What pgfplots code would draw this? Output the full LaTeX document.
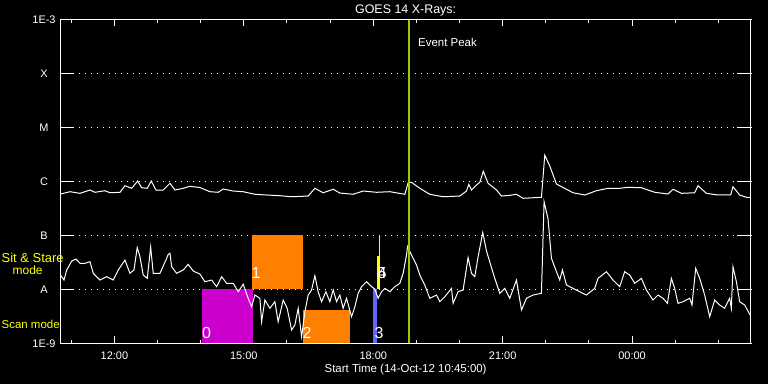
\documentclass[border=0pt]{standalone}
\usepackage{fontspec}
\setmainfont{Liberation Sans}
\usepackage{pgfplots}
\pgfplotsset{compat=1.18}
\definecolor{boxmag}{RGB}{204,0,204}
\definecolor{boxorange}{RGB}{255,128,0}
\definecolor{boxblue}{RGB}{100,100,255}
\definecolor{boxyellow}{RGB}{255,255,0}
\definecolor{peakgreen}{RGB}{153,204,0}
\begin{document}
\begin{tikzpicture}
\fill[black] (0,0) rectangle (768bp,384bp);
\useasboundingbox (0,0) rectangle (768bp,384bp);
% long y ticks on both sides
\begin{axis}[
  at={(60.5bp,41bp)}, anchor=south west,
  scale only axis, width=690.2bp, height=323.5bp,
  xmin=10.75, xmax=26.75,
  ymode=log, ymin=1e-9, ymax=1e-3,
  axis line style={draw=none},
  xtick=\empty,
  ytick={1e-8,1e-7,1e-6,1e-5,1e-4},
  yticklabels={},
  yminorticks=false,
  tick pos=both, tick align=inside,
  major tick length=14bp,
  every tick/.style={white, line width=1bp},
]
\end{axis}
\begin{axis}[
  at={(60.5bp,41bp)}, anchor=south west,
  scale only axis, width=690.2bp, height=323.5bp,
  xmin=10.75, xmax=26.75,
  ymode=log, ymin=1e-9, ymax=1e-3,
  axis line style={white, line width=1bp},
  tick pos=both, tick align=inside,
  xtick={12,15,18,21,24},
  xticklabels={12:00,15:00,18:00,21:00,00:00},
  minor xtick={11,13,14,16,17,19,20,22,23,25,26},
  major tick length=6.7bp, minor tick length=3.3bp,
  every tick/.style={white, line width=1bp},
  ytick={1e-9,1e-8,1e-7,1e-6,1e-5,1e-4,1e-3},
  yticklabels={1E-9,A,B,C,M,X,1E-3},
  yminorticks=false,
  ytick style={draw=none},
  ymajorgrids,
  grid style={white, line width=1bp, dash pattern=on 1bp off 5bp},
  every tick label/.append style={white, font=\fontsize{11}{13}\selectfont, inner sep=0pt},
  xticklabel style={anchor=base, yshift=-16.3bp},
  yticklabel style={anchor=base, xshift=-16.5bp, yshift=-4.3bp},
  clip=true,
]
% observation boxes
\addplot[fill=boxmag, draw=none] coordinates {(14.029,1e-9) (15.203,1e-9) (15.203,1e-8) (14.029,1e-8)};
\addplot[fill=boxorange, draw=none] coordinates {(15.187,1e-8) (16.362,1e-8) (16.362,1e-7) (15.187,1e-7)};
\addplot[fill=boxorange, draw=none] coordinates {(16.369,1e-9) (17.451,1e-9) (17.451,4.09e-9) (16.369,4.09e-9)};
\addplot[fill=boxblue, draw=none] coordinates {(17.998,1e-9) (18.076,1e-9) (18.076,1e-8) (17.998,1e-8)};
\addplot[fill=boxyellow, draw=none] coordinates {(18.083,1e-8) (18.146,1e-8) (18.146,4.11e-8) (18.083,4.11e-8)};
\addplot[boxyellow, line width=1bp] coordinates {(18.137,1e-8) (18.137,1e-7)};
% long channel 1-8 A
\addplot[white, line width=1bp] coordinates {
(10.750,5.80e-7) (10.970,6.40e-7) (11.202,5.97e-7) (11.434,6.88e-7) (11.549,6.24e-7) (11.781,6.68e-7) (11.897,6.12e-7) (12.129,6.24e-7) (12.244,8.26e-7) (12.400,7.40e-7) (12.539,1.01e-6) (12.631,7.59e-7) (12.761,7.40e-7) (12.854,1.01e-6) (12.963,6.88e-7) (13.132,6.88e-7) (13.287,9.16e-7) (13.403,6.88e-7) (13.595,7.40e-7) (13.750,8.05e-7) (13.982,7.65e-7) (14.214,6.40e-7) (14.406,6.24e-7) (14.522,7.18e-7) (14.754,6.59e-7) (14.985,6.40e-7) (15.257,5.73e-7) (15.528,5.56e-7) (15.836,5.40e-7) (16.107,5.16e-7) (16.492,5.32e-7) (16.647,7.40e-7) (16.839,6.12e-7) (17.071,7.10e-7) (17.226,6.05e-7) (17.534,5.73e-7) (17.766,6.59e-7) (18.076,6.24e-7) (18.385,6.40e-7) (18.732,5.73e-7) (18.809,9.40e-7) (18.887,9.55e-7) (19.080,7.40e-7) (19.311,5.73e-7) (19.619,5.16e-7) (20.006,5.32e-7) (20.162,6.59e-7) (20.215,8.77e-7) (20.278,6.88e-7) (20.393,8.51e-7) (20.470,9.55e-7) (20.551,1.53e-6) (20.662,9.16e-7) (20.857,6.88e-7) (20.973,5.32e-7) (21.165,5.48e-7) (21.320,5.73e-7) (21.473,4.83e-7) (21.899,5.04e-7) (21.976,3.05e-6) (22.092,1.92e-6) (22.247,8.89e-7) (22.400,7.65e-7) (22.632,6.12e-7) (22.903,5.56e-7) (23.174,6.68e-7) (23.442,7.40e-7) (23.714,7.40e-7) (23.906,7.72e-7) (24.216,7.59e-7) (24.525,6.24e-7) (24.833,5.80e-7) (24.949,7.10e-7) (25.143,5.97e-7) (25.451,6.12e-7) (25.528,8.26e-7) (25.723,5.97e-7) (25.991,5.56e-7) (26.286,5.56e-7) (26.339,7.92e-7) (26.494,5.56e-7) (26.649,5.04e-7) (26.737,5.04e-7)
};
% short channel 0.5-4 A
\addplot[white, line width=1bp] coordinates {
(10.750,1.82e-8) (10.831,1.47e-8) (10.894,2.26e-8) (11.010,3.32e-8) (11.109,3.61e-8) (11.202,3.01e-8) (11.318,3.01e-8) (11.434,3.22e-8) (11.510,1.96e-8) (11.665,1.47e-8) (11.820,1.70e-8) (11.973,1.47e-8) (12.089,2.26e-8) (12.244,3.46e-8) (12.360,1.96e-8) (12.453,2.26e-8) (12.529,5.90e-8) (12.592,3.99e-8) (12.668,1.82e-8) (12.761,1.58e-8) (12.840,6.03e-8) (12.900,1.96e-8) (13.055,1.96e-8) (13.194,3.46e-8) (13.248,4.42e-8) (13.287,4.61e-8) (13.327,2.60e-8) (13.442,1.96e-8) (13.595,2.26e-8) (13.711,2.88e-8) (13.827,2.16e-8) (13.982,1.90e-8)
(14.098,1.37e-8) (14.253,1.47e-8) (14.369,1.11e-8) (14.485,1.70e-8) (14.601,1.28e-8) (14.754,1.28e-8) (14.870,8.94e-9) (14.985,1.23e-8) (15.101,6.75e-9) (15.180,4.71e-9) (15.257,7.76e-9) (15.372,6.75e-9) (15.412,2.48e-9) (15.488,6.27e-9) (15.604,4.40e-9) (15.720,5.83e-9) (15.796,2.48e-9) (15.912,6.27e-9) (16.005,4.40e-9) (16.107,1.74e-9) (16.183,2.16e-9) (16.260,4.40e-9) (16.339,1.31e-9) (16.415,3.80e-9) (16.492,7.76e-9) (16.570,9.61e-9) (16.647,1.77e-8) (16.723,8.94e-9) (16.802,5.83e-9) (16.902,8.94e-9) (16.994,5.83e-9) (17.071,9.61e-9) (17.150,5.83e-9) (17.226,7.76e-9) (17.302,4.40e-9) (17.381,6.75e-9) (17.497,3.07e-9) (17.574,4.71e-9) (17.650,8.35e-9) (17.729,1.11e-8) (17.845,1.37e-8) (17.961,1.11e-8)
(18.037,1.00e-8) (18.113,6.75e-9) (18.192,8.94e-9) (18.269,1.03e-8) (18.385,8.94e-9) (18.500,1.11e-8) (18.616,1.28e-8) (18.693,1.96e-8) (18.771,4.29e-8) (18.795,6.11e-8) (18.887,4.29e-8) (19.003,2.80e-8) (19.080,1.82e-8) (19.195,1.19e-8) (19.311,6.75e-9) (19.467,7.76e-9) (19.543,5.83e-9) (19.659,7.22e-9) (19.814,1.03e-8) (19.851,5.45e-9) (19.967,8.94e-9) (20.083,9.61e-9) (20.199,3.85e-8) (20.278,1.96e-8) (20.354,1.70e-8) (20.431,3.99e-8) (20.539,1.12e-7) (20.625,5.08e-8) (20.741,2.51e-8) (20.817,1.58e-8) (20.933,8.35e-9) (21.049,1.03e-8) (21.165,6.75e-9) (21.320,1.47e-8) (21.436,4.09e-9) (21.552,6.75e-9) (21.705,7.76e-9) (21.899,8.35e-9)
(21.960,4.18e-7) (22.052,2.00e-7) (22.131,3.72e-8) (22.247,2.10e-8) (22.323,1.47e-8) (22.386,2.26e-8) (22.479,1.19e-8) (22.632,1.03e-8) (22.787,8.94e-9) (22.942,7.76e-9) (23.134,1.03e-8) (23.211,1.58e-8) (23.405,2.10e-8) (23.558,1.47e-8) (23.714,1.11e-8) (23.829,2.10e-8) (23.945,1.82e-8) (24.061,1.28e-8) (24.216,1.58e-8) (24.332,9.61e-9) (24.485,6.27e-9) (24.601,7.76e-9) (24.717,6.75e-9) (24.819,5.45e-9) (24.911,1.58e-8) (24.988,1.03e-8) (25.064,5.45e-9) (25.180,5.83e-9) (25.336,6.75e-9) (25.389,5.07e-9) (25.475,2.43e-8) (25.568,1.58e-8) (25.683,7.76e-9) (25.799,3.07e-9) (25.915,6.27e-9) (26.031,5.07e-9) (26.146,4.40e-9) (26.262,6.75e-9) (26.301,4.40e-9) (26.339,2.60e-8) (26.418,1.37e-8) (26.494,5.83e-9) (26.610,5.07e-9) (26.737,3.30e-9)
};
% event peak
\addplot[peakgreen, line width=2.3bp] coordinates {(18.825,1e-9) (18.825,1e-3)};
\end{axis}
% texts
\node[white, font=\fontsize{12.5}{14}\selectfont, anchor=base, inner sep=0pt] at (405.6bp,370bp) {GOES 14 X-Rays:};
\node[white, font=\fontsize{11.5}{13}\selectfont, anchor=base, inner sep=0pt] at (405.6bp,11.3bp) {Start Time (14-Oct-12 10:45:00)};
\node[white, font=\fontsize{11.5}{13}\selectfont, anchor=base west, inner sep=0pt] at (418bp,337bp) {Event Peak};
\node[boxyellow, font=\fontsize{13}{15}\selectfont, anchor=base west, inner sep=0pt] at (1.5bp,121bp) {Sit \& Stare};
\node[boxyellow, font=\fontsize{12}{14}\selectfont, anchor=base west, inner sep=0pt] at (12.5bp,109bp) {mode};
\node[boxyellow, font=\fontsize{11.5}{13}\selectfont, anchor=base west, inner sep=0pt] at (1.5bp,55.7bp) {Scan mode};
\node[white, font=\fontsize{16}{18}\selectfont, anchor=base west, inner sep=0pt] at (202bp,45.5bp) {0};
\node[white, font=\fontsize{16}{18}\selectfont, anchor=base west, inner sep=0pt] at (251.5bp,105.7bp) {1};
\node[white, font=\fontsize{16}{18}\selectfont, anchor=base west, inner sep=0pt] at (302.5bp,45bp) {2};
\node[white, font=\fontsize{16}{18}\selectfont, anchor=base west, inner sep=0pt] at (374.5bp,45bp) {3};
\node[white, font=\fontsize{16}{18}\selectfont, anchor=base west, inner sep=0pt] at (377.5bp,105.7bp) {4};
\node[white, font=\fontsize{16}{18}\selectfont, anchor=base west, inner sep=0pt] at (377.5bp,105.7bp) {5};
\end{tikzpicture}
\end{document}
